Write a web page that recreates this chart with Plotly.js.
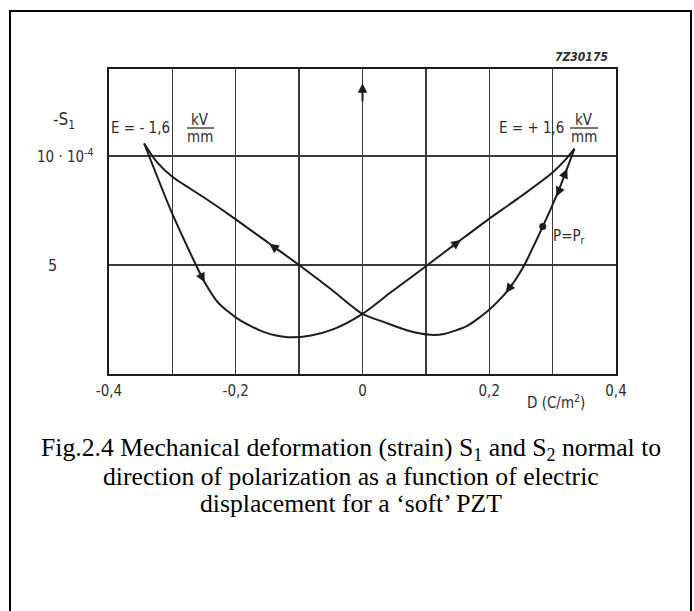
<!DOCTYPE html>
<html>
<head>
<meta charset="utf-8">
<script src="https://cdn.plot.ly/plotly-3.0.1.min.js"></script>
<style>
  html, body { margin: 0; padding: 0; background: #ffffff; }
  #chart { width: 694px; height: 611px; }
</style>
</head>
<body>
<div id="chart"></div>
<script>
// Butterfly loop of a 'soft' PZT: strain -S1 (x 10^-4) versus displacement D (C/m^2)

// Branch traced while E falls from +1.6 kV/mm to -1.6 kV/mm
const fallD = [0.3344, 0.3207, 0.3081, 0.2959, 0.2844, 0.2701, 0.2554, 0.2422, 0.2291, 0.2133, 0.1985, 0.1817, 0.1659, 0.1474, 0.129, 0.1079, 0.0711, 0.0342, 0.0,
               -0.05, -0.1, -0.15, -0.2, -0.25, -0.3, -0.325, -0.3445];
const fallS = [10.34, 9.27, 8.32, 7.50, 6.77, 5.88, 5.00, 4.36, 3.83, 3.32, 2.91, 2.53, 2.22, 2.00, 1.84, 1.80, 2.00, 2.38, 2.76,
               3.90, 5.00, 6.05, 7.10, 8.10, 9.05, 9.75, 10.58];

// Branch traced while E rises from -1.6 kV/mm back to +1.6 kV/mm
const riseD = [-0.3445, -0.3005, -0.2627, -0.2491, -0.228, -0.1966, -0.155, -0.118, -0.0813, -0.0446, 0.0,
               0.0447, 0.0975, 0.153, 0.1986, 0.245, 0.300, 0.321, 0.3344];
const riseS = [10.58, 7.38, 5.00, 4.21, 3.28, 2.53, 1.92, 1.69, 1.77, 2.07, 2.76,
               3.75, 4.89, 6.11, 7.10, 8.05, 9.25, 9.86, 10.34];

// Remanent state P = Pr
const remD = [0.2844];
const remS = [6.77];

// Direction arrows on the loop: head point and a point just behind it
const arrowD     = [-0.2491, -0.147, 0.155, 0.226, 0.306, 0.323];
const arrowS     = [4.21, 5.98, 6.15, 3.72, 8.15, 9.42];
const arrowFromD = [-0.2580, -0.130, 0.138, 0.238, 0.313, 0.316];
const arrowFromS = [4.72, 5.62, 5.78, 4.20, 8.60, 8.95];

// Arrow on the -S1 axis
const axisArrowD = [0, 0];
const axisArrowS = [12.45, 13.35];

// Axis ticks
const xGrid = [-0.4, -0.3, -0.2, -0.1, 0, 0.1, 0.2, 0.3, 0.4];
const xText = ['-0,4', '', '-0,2', '', '0', '', '0,2', '', '0,4'];
const yGrid = [5, 10];
const yText = ['5', '10 · 10<sup>-4</sup>'];

// Caption lines
const captionLines = [
  'Fig.2.4 Mechanical deformation (strain) S<sub>1</sub> and S<sub>2</sub> normal to',
  'direction of polarization as a function of electric',
  'displacement for a \u2018soft\u2019 PZT'
];

// ---- page geometry (pixels) ----
const W = 694, H = 611;
const M = { l: 109, r: 78, t: 69, b: 237 };
const PW = W - M.l - M.r, PH = H - M.t - M.b;
const xp = px => (px - M.l) / PW;          // pixel column -> paper x
const yp = py => (H - M.b - py) / PH;      // pixel row -> paper y

const tech = '"DejaVu Sans Condensed", "Liberation Sans Narrow", "DejaVu Sans", sans-serif';
const ink = '#1c1c1c';
const textInk = '#2e2e2e';

const curveLine = { color: ink, width: 2, shape: 'spline', smoothing: 0.7 };

const traces = [
  { x: fallD, y: fallS, mode: 'lines', line: curveLine, hoverinfo: 'skip', showlegend: false },
  { x: riseD, y: riseS, mode: 'lines', line: curveLine, hoverinfo: 'skip', showlegend: false },
  { x: remD, y: remS, mode: 'markers', marker: { color: ink, size: 7 }, hoverinfo: 'skip', showlegend: false }
];

const annotations = [];

// loop direction arrows
arrowD.forEach((d, i) => {
  annotations.push({
    x: d, y: arrowS[i], xref: 'x', yref: 'y',
    ax: arrowFromD[i], ay: arrowFromS[i], axref: 'x', ayref: 'y',
    text: '', showarrow: true, arrowhead: 2, arrowsize: 0.95, arrowwidth: 2,
    arrowcolor: ink, standoff: 0, startstandoff: 0
  });
});

// arrow on the vertical axis
annotations.push({
  x: axisArrowD[1], y: axisArrowS[1], xref: 'x', yref: 'y',
  ax: axisArrowD[0], ay: axisArrowS[0], axref: 'x', ayref: 'y',
  text: '', showarrow: true, arrowhead: 2, arrowsize: 0.95, arrowwidth: 2,
  arrowcolor: ink, standoff: 0
});

// y tick labels
annotations.push({ x: xp(52), y: yGrid[0], xref: 'paper', yref: 'y', text: yText[0],
  showarrow: false, xanchor: 'center', yanchor: 'middle', font: { family: tech, size: 16, color: textInk } });
annotations.push({ x: xp(96), y: yGrid[1], xref: 'paper', yref: 'y', text: yText[1],
  showarrow: false, xanchor: 'right', yanchor: 'middle', font: { family: tech, size: 15, color: textInk } });

const label = (px, py, text, size, extra) => Object.assign({
  x: xp(px), y: yp(py), xref: 'paper', yref: 'paper', text: text, showarrow: false,
  xanchor: 'center', yanchor: 'middle', font: { family: tech, size: size, color: textInk }
}, extra || {});

// axis titles
annotations.push(label(64, 120, '-S<sub>1</sub>', 17));
annotations.push(label(556, 402, 'D (C/m<sup>2</sup>)', 15));

// drawing number
annotations.push(label(581, 57, '<b><i>7Z30175</i></b>', 12));

// field labels
annotations.push(label(172, 128, 'E = - 1,6', 15, { xanchor: 'right' }));
annotations.push(label(200, 120, 'kV', 15));
annotations.push(label(200, 137, 'mm', 15));
annotations.push(label(566, 128, 'E = + 1,6', 15, { xanchor: 'right' }));
annotations.push(label(584, 120, 'kV', 15));
annotations.push(label(584, 137, 'mm', 15));

// remanent label
annotations.push(label(551, 236, 'P=P<sub>r</sub>', 15, { xanchor: 'left' }));

// caption
const capRows = [449, 476, 503];
captionLines.forEach((t, i) => {
  annotations.push({
    x: xp(351), y: yp(capRows[i]), xref: 'paper', yref: 'paper', text: t, showarrow: false,
    xanchor: 'center', yanchor: 'middle',
    font: { family: '"Liberation Serif", "Times New Roman", serif', size: 25.7, color: '#000' }
  });
});

const shapes = [
  // fraction bars
  { type: 'line', xref: 'paper', yref: 'paper', x0: xp(187), x1: xp(214), y0: yp(128), y1: yp(128),
    line: { color: textInk, width: 1.3 } },
  { type: 'line', xref: 'paper', yref: 'paper', x0: xp(570), x1: xp(598), y0: yp(128), y1: yp(128),
    line: { color: textInk, width: 1.3 } },
  // outer frame of the figure
  { type: 'rect', xref: 'paper', yref: 'paper', x0: xp(10), x1: xp(691), y0: yp(11), y1: yp(616),
    line: { color: '#000', width: 2 }, layer: 'below' }
];

const layout = {
  width: W, height: H,
  margin: M,
  paper_bgcolor: '#ffffff', plot_bgcolor: '#ffffff',
  showlegend: false,
  xaxis: {
    range: [-0.4, 0.4], tickmode: 'array', tickvals: xGrid, ticktext: xText,
    showgrid: true, gridcolor: '#3a3a3a', gridwidth: 1.3, zeroline: false,
    showline: true, mirror: true, linecolor: ink, linewidth: 2,
    ticks: '', ticklabelstandoff: 2,
    tickfont: { family: tech, size: 15, color: textInk },
    fixedrange: true
  },
  yaxis: {
    range: [0, 14], tickmode: 'array', tickvals: yGrid, ticktext: yText,
    showticklabels: false,
    showgrid: true, gridcolor: '#3a3a3a', gridwidth: 1.3, zeroline: false,
    showline: true, mirror: true, linecolor: ink, linewidth: 2,
    ticks: '', fixedrange: true
  },
  annotations: annotations,
  shapes: shapes
};

Plotly.newPlot('chart', traces, layout, { staticPlot: true, displayModeBar: false });
</script>
</body>
</html>
